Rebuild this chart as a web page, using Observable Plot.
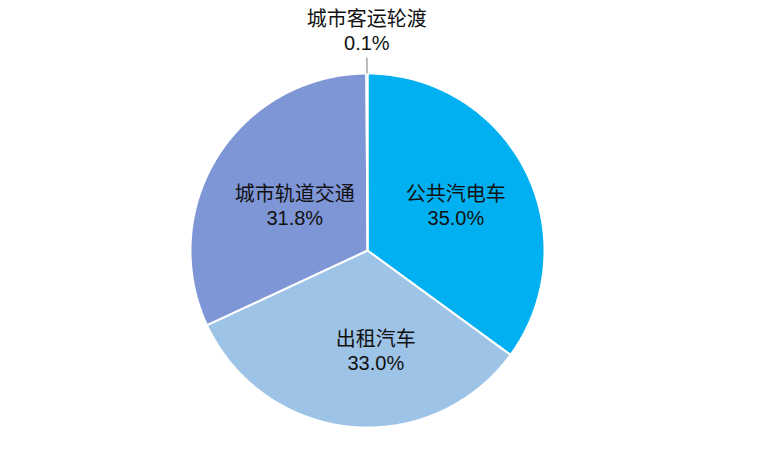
<!DOCTYPE html>
<html>
<head>
<meta charset="utf-8">
<script src="https://cdn.jsdelivr.net/npm/d3@7"></script>
<script src="https://cdn.jsdelivr.net/npm/@observablehq/plot@0.6"></script>
<style>
  html, body { margin: 0; padding: 0; background: #fff; }
  #chart svg { display: block; font-family: "Liberation Sans", "Noto Sans CJK SC", Arial, sans-serif; }
</style>
</head>
<body>
<div id="chart"></div>
<script>
// Data (clockwise from 12 o'clock)
const categories = ["公共汽电车", "出租汽车", "城市轨道交通", "城市客运轮渡"];
const shares = [35.0, 33.0, 31.8, 0.1];
const labels = ["35.0%", "33.0%", "31.8%", "0.1%"];
const colors = ["#00B0F0", "#9DC3E6", "#7F96D6", "#A5A5A5"];

// label placement nudges in pixels (style only)
const nudge = {"公共汽电车": [0, 0], "出租汽车": [18, 1], "城市轨道交通": [11, 8]};

const table = categories.map((name, i) => ({name, value: shares[i], label: labels[i]}));
const arcs = d3.pie().sort(null).value(d => d.value).startAngle(0).endAngle(2 * Math.PI)(table);

// slice outlines in unit coordinates (angle measured clockwise from top)
const slicePoints = [];
for (const a of arcs) {
  slicePoints.push({name: a.data.name, x: 0, y: 0});
  const n = Math.max(2, Math.ceil((a.endAngle - a.startAngle) / (Math.PI / 360)));
  for (let k = 0; k <= n; k++) {
    const t = a.startAngle + (a.endAngle - a.startAngle) * k / n;
    slicePoints.push({name: a.data.name, x: Math.sin(t), y: Math.cos(t)});
  }
}

const inside = arcs.filter(a => a.data.value > 1).map(a => {
  const m = (a.startAngle + a.endAngle) / 2;
  return {name: a.data.name, text: a.data.name + "\n" + a.data.label, x: 0.56 * Math.sin(m), y: 0.56 * Math.cos(m)};
});
const outside = arcs.filter(a => a.data.value <= 1).map(a => {
  const m = (a.startAngle + a.endAngle) / 2;
  return {text: a.data.name + "\n" + a.data.label,
          x: 1.245 * Math.sin(m), y: 1.245 * Math.cos(m),
          x1: 1.0 * Math.sin(m), y1: 1.0 * Math.cos(m),
          x2: 1.09 * Math.sin(m), y2: 1.09 * Math.cos(m)};
});

const textStyle = {fontSize: 20, lineHeight: 1.2, fill: "#111"};

const chart = Plot.plot({
  width: 760,
  height: 476,
  marginLeft: 190,
  marginRight: 216,
  marginTop: 73,
  marginBottom: 49,
  x: {domain: [-1, 1], axis: null},
  y: {domain: [-1, 1], axis: null},
  color: {domain: categories, range: colors},
  style: {fontFamily: '"Liberation Sans", "Noto Sans CJK SC", Arial, sans-serif', background: "#fff"},
  marks: [
    Plot.line(slicePoints, {x: "x", y: "y", z: "name", fill: "name", stroke: "white", strokeWidth: 2, curve: "linear-closed", strokeLinejoin: "miter"}),
    Plot.link(outside, {x1: "x1", y1: "y1", x2: "x2", y2: "y2", stroke: "#A6A6A6", strokeWidth: 1.5}),
    ...inside.map(d => Plot.text([d], {x: "x", y: "y", text: "text", dx: nudge[d.name][0], dy: nudge[d.name][1], ...textStyle})),
    Plot.text(outside, {x: "x", y: "y", text: "text", ...textStyle})
  ]
});
document.getElementById("chart").append(chart);
</script>
</body>
</html>
